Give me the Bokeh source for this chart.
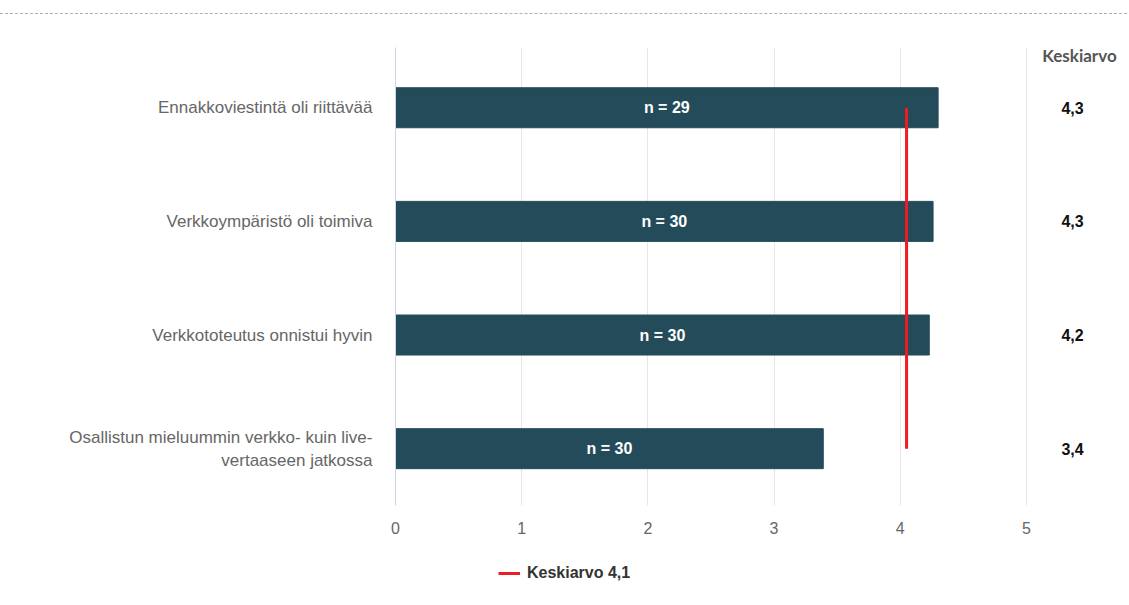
from bokeh.plotting import figure
from bokeh.models import (ColumnDataSource, Range1d, FixedTicker, Legend, LegendItem, Div)
from bokeh.layouts import column
from bokeh.embed import file_html
from bokeh.resources import INLINE
from bokeh.core.properties import value

categories = ["Ennakkoviestintä oli riittävää",
              "Verkkoympäristö oli toimiva",
              "Verkkototeutus onnistui hyvin",
              "Osallistun mieluummin verkko- kuin live-\nvertaaseen jatkossa"]
means = [4.30, 4.26, 4.23, 3.39]
counts = [29, 30, 30, 30]
mean_labels = ["4,3", "4,3", "4,2", "3,4"]
column_header = "Keskiarvo"
overall_mean = 4.05
overall_label = "Keskiarvo 4,1"
x_ticks = [0, 1, 2, 3, 4, 5]

ypos = [3, 2, 1, 0]

W = 1127
top = Div(text='<div style="margin-top:13px;border-top:1px dashed #b0b0b0;width:1127px;height:4px"></div>',
          width=W, height=18, margin=0)

p = figure(width=W, height=525, x_range=Range1d(0, 5.785), y_range=Range1d(-0.5, 3.53),
           output_backend="svg", toolbar_location=None,
           min_border_left=395, min_border_right=2, min_border_top=29, min_border_bottom=38)
p.outline_line_color = None
p.ygrid.visible = False
p.xgrid.grid_line_color = "#e6e6e6"
p.xgrid.ticker = FixedTicker(ticks=x_ticks)

src = ColumnDataSource(dict(y=ypos, right=means, mid=[m / 2 for m in means],
                            n=[f"n = {c}" for c in counts], ml=mean_labels,
                            mx=[5.365] * len(ypos)))
p.hbar(y="y", left=0, right="right", height=0.352, source=src,
       fill_color="#244b5a", line_color="#244b5a")
p.text(x="mid", y="y", text="n", source=src, text_color="white",
       text_font=value("Liberation Sans"), text_font_style="bold", text_font_size="16px",
       text_align="center", text_baseline="middle")

p.segment(x0=[overall_mean], y0=[ypos[0]], x1=[overall_mean], y1=[ypos[-1]],
          line_color="#ee1c25", line_width=3)

# right column of means
p.text(x="mx", y="y", text="ml", source=src, text_color="#111111",
       text_font=value("Liberation Sans"), text_font_style="bold", text_font_size="16px",
       text_align="center", text_baseline="middle")
p.text(x=[5.42], y=[3.456], text=[column_header], text_color="#555555",
       text_font=value("Lato"), text_font_style="bold", text_font_size="17px",
       text_align="center", text_baseline="middle")

# x axis
p.xaxis.ticker = FixedTicker(ticks=x_ticks)
p.xaxis.axis_line_color = None
p.xaxis.major_tick_line_color = None
p.xaxis.minor_tick_line_color = None
p.xaxis.major_label_standoff = 10
p.xaxis.major_label_text_color = "#666666"
p.xaxis.major_label_text_font = "Liberation Sans"
p.xaxis.major_label_text_font_size = "16px"

# y axis
p.yaxis.ticker = FixedTicker(ticks=ypos)
p.yaxis.major_label_overrides = {y: c for y, c in zip(ypos, categories)}
p.yaxis.axis_line_color = "#ccd6eb"
p.yaxis.major_tick_line_color = None
p.yaxis.minor_tick_line_color = None
p.yaxis.major_label_standoff = 17
p.yaxis.major_label_text_color = "#666666"
p.yaxis.major_label_text_font = "Liberation Sans"
p.yaxis.major_label_text_font_size = "17px"
p.yaxis.major_label_text_align = "right"

# legend strip
lg = figure(width=W, height=50, x_range=p.x_range, y_range=Range1d(10, 11),
            output_backend="svg", toolbar_location=None,
            min_border_left=395, min_border_right=2, min_border_top=0, min_border_bottom=0)
lg.axis.visible = False
lg.grid.visible = False
lg.outline_line_color = None
r = lg.segment(x0=[overall_mean], y0=[ypos[0]], x1=[overall_mean], y1=[ypos[-1]],
               line_color="#ee1c25", line_width=3)
legend = Legend(items=[LegendItem(label=overall_label, renderers=[r])],
                location=(103, 10), orientation="horizontal",
                glyph_width=22, glyph_height=20, label_height=20, label_standoff=7,
                padding=0, margin=0,
                border_line_color=None, background_fill_alpha=0,
                label_text_font="Liberation Sans", label_text_font_style="bold",
                label_text_font_size="16px", label_text_color="#333333")
lg.add_layout(legend, "center")

layout = column(top, p, lg, spacing=0)
open("out.html", "w").write(file_html(layout, INLINE))
